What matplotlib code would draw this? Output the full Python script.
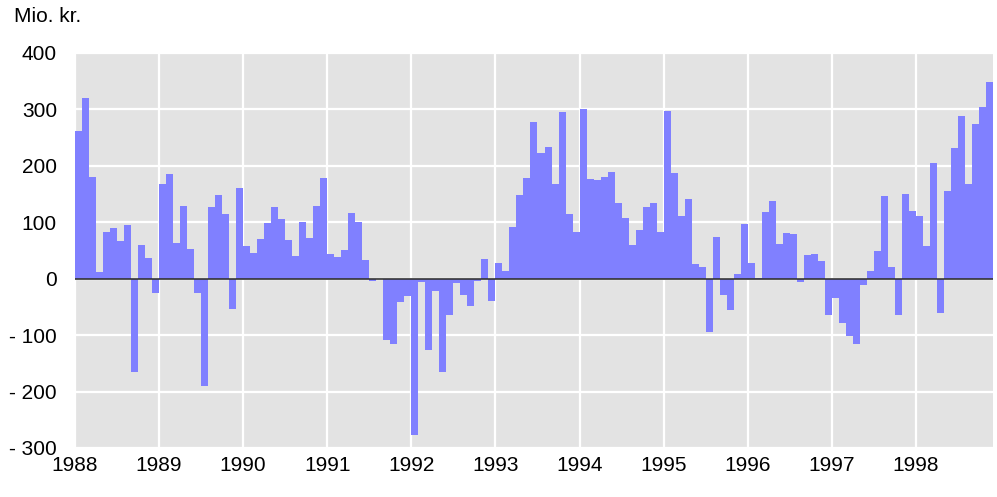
#!/usr/bin/env python

# Imports
import matplotlib
matplotlib.use("Agg")
import matplotlib.pyplot as plt
import numpy as np

# Monthly values, Mio. kr., Jan 1988 - Nov 1998
values_1988 = [261, 321, 180, 12, 83, 90, 67, 95, -166, 60, 37, -26]
values_1989 = [168, 185, 64, 129, 53, -25, -191, 127, 148, 115, -53, 161]
values_1990 = [58, 46, 71, 99, 127, 106, 69, 41, 101, 72, 129, 178]
values_1991 = [44, 39, 51, 116, 101, 34, -4, -1, -108, -116, -42, -30]
values_1992 = [-277, -5, -127, -21, -166, -64, -7, -28, -48, -4, 35, -39]
values_1993 = [28, 14, 92, 148, 178, 277, 222, 233, 168, 296, 115, 83]
values_1994 = [300, 176, 175, 180, 189, 134, 108, 60, 86, 127, 134, 83]
values_1995 = [298, 187, 112, 141, 26, 21, -94, 74, -28, -56, 9, 97]
values_1996 = [28, 2, 118, 138, 62, 81, 79, -5, 42, 44, 32, -65]
values_1997 = [-35, -79, -101, -115, -11, 14, 49, 146, 21, -64, 150, 120]
values_1998 = [111, 58, 205, -60, 155, 231, 289, 168, 274, 305, 349]

start_year = 1988
year_ticks = list(range(1988, 1999))
y_ticks = [-300, -200, -100, 0, 100, 200, 300, 400]
y_tick_labels = ["- 300", "- 200", "- 100", "0", "100", "200", "300", "400"]


def main():
    plt.rcParams["font.family"] = ["Liberation Sans", "DejaVu Sans"]

    values = np.array(values_1988 + values_1989 + values_1990 + values_1991
                      + values_1992 + values_1993 + values_1994 + values_1995
                      + values_1996 + values_1997 + values_1998)
    months = start_year + np.arange(len(values)) / 12.0

    fig = plt.figure(figsize=(9.97, 4.97), dpi=100)
    ax = fig.add_axes([0.0752, 0.0986, 0.9208, 0.7948])
    ax.set_facecolor("#e3e3e3")

    # Bars
    ax.bar(months, values, width=1 / 12.0, align="edge", color="#8080ff",
           linewidth=0, zorder=2)
    ax.axhline(0, color="#333333", linewidth=1.2, zorder=3)

    # Axes and grid
    ax.set_xlim(start_year, start_year + len(values) / 12.0)
    ax.set_ylim(-300, 400)
    ax.set_xticks(year_ticks)
    ax.set_xticklabels([str(y) for y in year_ticks])
    ax.set_yticks(y_ticks)
    ax.set_yticklabels(y_tick_labels)
    ax.grid(True, color="white", linewidth=1.6, zorder=1)
    ax.set_axisbelow(True)
    for spine in ax.spines.values():
        spine.set_visible(False)
    ax.tick_params(axis="both", length=0, labelsize=15, colors="black")
    ax.tick_params(axis="y", pad=13)
    ax.tick_params(axis="x", pad=6)

    # Unit label
    fig.text(14 / 997, 1 - 16 / 497, "Mio. kr.", fontsize=15,
             ha="left", va="center")

    fig.savefig("out.png", dpi=100)


if __name__ == '__main__':
    main()
